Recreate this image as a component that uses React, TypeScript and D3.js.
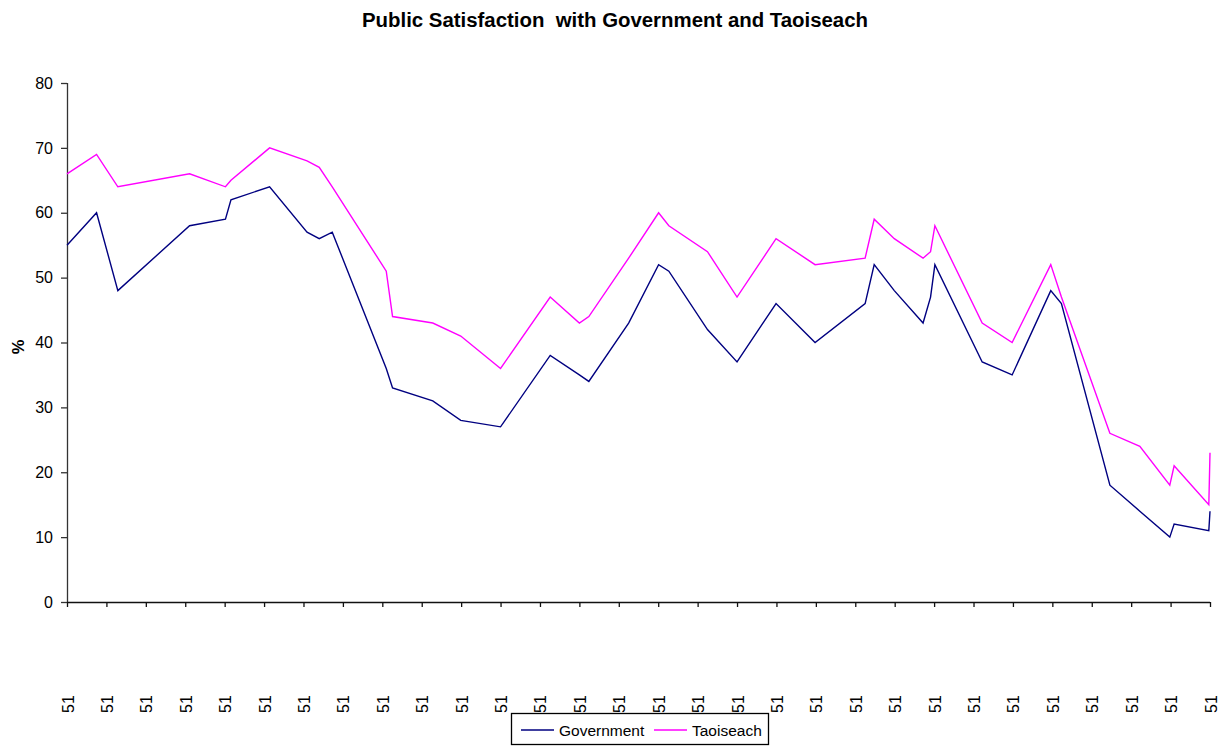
import { useEffect, useRef } from "react";
import * as d3 from "d3";

// poll positions, in months from the first axis tick
const pollMonth = [
  0, 0.75, 1.29, 3.11, 4.02, 4.16, 5.14, 6.09, 6.4, 6.73, 8.1, 8.26, 9.28, 9.99, 11.0,
  12.26, 13.0, 13.24, 14.25, 15.01, 15.27, 16.25, 17.0, 17.99, 18.98, 20.25, 20.48,
  20.99, 21.72, 21.91, 22.02, 23.22, 23.98, 24.96, 25.23, 26.46, 27.22, 27.98, 28.09,
  28.97, 29,
];
const government = [
  55, 60, 48, 58, 59, 62, 64, 57, 56, 57, 36, 33, 31, 28, 27, 38, 35, 34, 43, 52, 51, 42,
  37, 46, 40, 46, 52, 48, 43, 47, 52, 37, 35, 48, 46, 18, 14, 10, 12, 11, 14,
];
const taoiseach = [
  66, 69, 64, 66, 64, 65, 70, 68, 67, 64, 51, 44, 43, 41, 36, 47, 43, 44, 53, 60, 58, 54,
  47, 56, 52, 53, 59, 56, 53, 54, 58, 43, 40, 52, 47, 26, 24, 18, 21, 15, 23,
];
const tickMonths = d3.range(0, 30);
const tickLabel = "51";
const yTicks = [0, 10, 20, 30, 40, 50, 60, 70, 80];

const seriesNames = ["Government", "Taoiseach"];
const seriesColors = ["#000080", "#FF00FF"];

const W = 1225;
const H = 747;
const left = 67;
const right = 1210;
const top = 83;
const bottom = 602;
const font = "Arial, 'Liberation Sans', sans-serif";

export default function App() {
  const ref = useRef<SVGSVGElement>(null);

  useEffect(() => {
    if (!ref.current) return;
    const svg = d3.select(ref.current);
    svg.selectAll("*").remove();

    const x = d3.scaleLinear().domain([0, 29]).range([left, right]);
    const y = d3.scaleLinear().domain([0, 80]).range([bottom, top]);

    svg
      .append("text")
      .attr("x", 362)
      .attr("y", 27)
      .attr("font-family", font)
      .attr("font-weight", "bold")
      .attr("font-size", 19.5)
      .attr("textLength", 506)
      .attr("lengthAdjust", "spacingAndGlyphs")
      .attr("xml:space", "preserve")
      .text("Public Satisfaction  with Government and Taoiseach");

    // y axis
    const yAxis = svg
      .append("g")
      .attr("transform", `translate(${left},0)`)
      .call(d3.axisLeft(y).tickValues(yTicks).tickSize(6).tickPadding(8));
    yAxis.select(".domain").attr("stroke", "#333").attr("stroke-width", 1.3).attr("d", `M0.5,${top}V${bottom}`);
    yAxis.selectAll(".tick line").attr("stroke", "#333").attr("stroke-width", 1.3);
    yAxis.selectAll(".tick text").attr("font-family", font).attr("font-size", 16).attr("fill", "#000");

    svg
      .append("text")
      .attr("transform", `translate(24,347) rotate(-90)`)
      .attr("text-anchor", "middle")
      .attr("font-family", font)
      .attr("font-weight", "bold")
      .attr("font-size", 16.5)
      .text("%");

    // x axis
    const xAxis = svg
      .append("g")
      .attr("transform", `translate(0,${bottom})`)
      .call(d3.axisBottom(x).tickValues(tickMonths).tickSize(5).tickFormat(() => ""));
    xAxis.select(".domain").attr("stroke", "#111").attr("stroke-width", 1.3).attr("d", `M${left},0.5H${right}`);
    xAxis.selectAll(".tick line").attr("stroke", "#111").attr("stroke-width", 1.3);

    svg
      .append("g")
      .selectAll("text")
      .data(tickMonths)
      .join("text")
      .attr("transform", (d) => `translate(${x(d) + 1},704) rotate(-90)`)
      .attr("text-anchor", "middle")
      .attr("dominant-baseline", "central")
      .attr("font-family", font)
      .attr("font-size", 16)
      .text(tickLabel);

    // lines
    [government, taoiseach].forEach((vals, i) => {
      const line = d3
        .line<number>()
        .x((_, j) => x(pollMonth[j]))
        .y((d) => y(d));
      svg
        .append("path")
        .attr("d", line(vals))
        .attr("fill", "none")
        .attr("stroke", seriesColors[i])
        .attr("stroke-width", 1.4)
        .attr("stroke-linejoin", "miter");
    });

    // legend
    const lg = svg.append("g").attr("transform", "translate(511,713)");
    lg.append("rect")
      .attr("x", 0.5)
      .attr("y", 0.5)
      .attr("width", 257)
      .attr("height", 31)
      .attr("fill", "#fff")
      .attr("stroke", "#000")
      .attr("stroke-width", 1.3);
    const offsets = [10, 143];
    seriesNames.forEach((name, i) => {
      const g = lg.append("g").attr("transform", `translate(${offsets[i]},0)`);
      g.append("line")
        .attr("x1", 0)
        .attr("x2", 33)
        .attr("y1", 17)
        .attr("y2", 17)
        .attr("stroke", seriesColors[i])
        .attr("stroke-width", 1.4);
      g.append("text")
        .attr("x", 38)
        .attr("y", 23)
        .attr("font-family", font)
        .attr("font-size", 15.5)
        .text(name);
    });
  }, []);

  return (
    <div style={{ position: "absolute", left: 0, top: 0, background: "#fff" }}>
      <svg ref={ref} width={W} height={H} />
    </div>
  );
}
